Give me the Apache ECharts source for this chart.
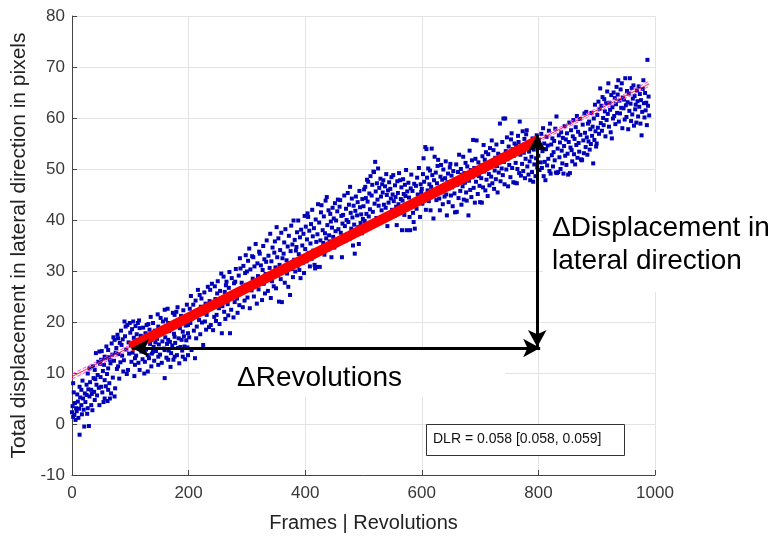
<!DOCTYPE html>
<html><head><meta charset="utf-8">
<script src="https://cdn.jsdelivr.net/npm/echarts@6/dist/echarts.min.js"></script>
<style>html,body{margin:0;padding:0;background:#fff}#c{width:775px;height:538px}</style>
</head><body><div id="c"></div>
<script>
// ---- data: [frame, displacement] ----
const seg0 = [[2,1.4],[4,1.8],[0,2.3],[13,-2.1],[21,-0.5],[29,-0.4],[7,3.1],[16,3.7],[10,4.4],[5,4.1],[19,5.0],[25,5.7],[33,6.7],[30,5.4],[39,4.7],[47,3.7],[33,3.7],[27,3.1],[56,5.0],[65,5.0],[73,5.4],[62,6.7],[50,7.3],[42,7.7],[56,8.6],[16,6.7],[13,7.3],[25,7.7],[2,8.0],[27,9.9],[36,11.3],[45,12.2],[50,12.6],[56,13.2],[47,14.2],[62,14.5],[68,15.8],[73,16.5],[79,16.8],[85,15.5],[76,14.9],[65,12.6],[79,11.3],[88,10.3],[96,10.6],[39,10.6],[30,10.9],[62,10.9],[90,20.1],[95,19.4],[99,19.8],[92,19.1],
[1,3.5],[3,6.2],[6,0.8],[8,2.5],[9,5.8],[11,1.2],[12,3.0],[14,5.2],[17,1.9],[18,8.5],[20,2.8],[22,6.0],[23,4.3],[26,2.0],[28,6.8],[31,8.2],[34,5.9],[35,2.7],[37,9.0],[38,6.3],[40,8.8],[41,13.9],[43,5.6],[44,9.6],[46,7.1],[48,11.8],[49,9.2],[51,14.3],[52,6.2],[53,10.4],[54,4.3],[55,11.6],[57,12.9],[58,7.4],[59,15.2],[60,9.8],[61,4.5],[63,13.1],[64,8.0],[66,11.9],[67,6.0],[69,13.6],[70,9.1],[71,17.0],[72,12.4],[74,7.0],[75,14.0],[77,10.8],[78,17.5],[80,13.7],[81,8.9],[82,15.9],[83,12.1],[84,18.3],[86,13.4],[87,16.6],[89,12.5],[91,17.2],[93,14.6],[94,9.8],[97,16.0],[98,13.8]];
const seg1 = [[100,17.9],[105,20.1],[113,19.8],[116,18.8],[128,19.4],[133,18.5],[139,19.8],[148,19.1],[156,20.1],[165,19.8],[176,21.4],[159,22.4],[179,22.0],[190,20.4],[199,19.4],[113,16.5],[125,15.8],[136,16.5],[145,17.1],[153,17.8],[165,16.5],[176,17.1],[188,16.5],[193,15.2],[182,14.9],[170,13.9],[159,14.5],[148,13.2],[139,14.2],[130,13.5],[119,14.2],[108,12.9],[125,12.2],[136,11.3],[148,11.6],[159,9.0],[130,10.3],[116,10.6],[108,11.6],[199,13.5],[165,12.6],[176,13.2],[190,13.2],[190,18.1],[199,17.8],[102,12.2],
[101,15.5],[103,18.6],[104,14.0],[106,16.9],[107,9.4],[109,19.2],[110,13.4],[111,17.6],[112,15.0],[114,12.0],[115,20.3],[117,14.8],[118,17.3],[120,16.2],[121,12.7],[122,18.9],[123,15.3],[124,9.9],[126,17.8],[127,14.6],[129,16.9],[131,19.6],[132,12.9],[134,15.7],[135,21.0],[137,13.8],[138,17.4],[140,15.1],[141,12.4],[142,18.3],[143,16.0],[144,14.3],[146,16.7],[147,21.5],[149,15.6],[150,17.9],[151,13.6],[152,20.8],[154,12.0],[155,16.2],[157,18.6],[158,14.8],[160,17.0],[161,20.5],[162,13.0],[163,15.7],[164,22.6],[166,14.4],[167,18.2],[168,16.1],[169,11.2],[171,19.0],[172,15.4],[173,21.8],[174,12.6],[175,17.7],[177,15.9],[178,19.9],[180,13.5],[181,22.9],[183,16.8],[184,11.9],[185,18.8],[186,15.1],[187,21.2],[189,14.4],[191,22.3],[192,17.2],[194,12.7],[195,19.3],[196,16.4],[197,23.4],[198,15.0]];
const seg2 = [[200,20.9],[201,17.0],[202,22.6],[203,19.8],[204,25.1],[205,14.5],[206,20.7],[208,23.4],[209,18.3],[210,21.9],[211,12.9],[212,24.2],[213,16.8],[214,19.1],[215,22.2],[216,26.3],[218,20.4],[219,25.3],[220,17.6],[221,23.0],[222,24.6],[223,19.9],[225,15.5],[226,21.7],[227,25.8],[228,20.1],[229,23.6],[230,18.5],[231,21.4],[233,26.9],[234,22.5],[235,19.0],[236,24.1],[237,26.3],[238,19.4],[239,22.9],[240,27.5],[242,18.4],[243,23.8],[244,21.0],[245,27.0],[246,24.5],[247,20.2],[248,21.4],[249,25.6],[250,28.0],[252,22.7],[253,19.6],[254,26.1],[255,24.0],[256,29.5],[257,17.8],[258,23.1],[260,28.9],[261,22.0],[262,25.9],[263,20.6],[264,27.2],[265,27.9],[267,23.5],[268,21.3],[269,26.7],[270,29.8],[271,17.8],[272,24.8],[273,22.4],[274,28.6],[276,25.4],[277,20.9],[278,27.6],[279,23.9],[280,27.9],[281,30.4],[283,24.6],[284,21.8],[285,26.2],[286,29.1],[287,23.3],[288,32.5],[289,30.5],[290,25.8],[291,27.7],[293,22.9],[294,31.0],[295,26.8],[296,24.2],[297,29.6],[298,33.1],[299,27.3]];
const seg3 = [[300,29.9],[301,24.8],[302,32.0],[303,27.1],[304,34.4],[305,22.7],[306,30.3],[308,26.2],[309,32.9],[310,28.5],[311,32.7],[312,25.0],[313,30.9],[314,27.8],[315,35.3],[317,23.6],[318,31.5],[319,29.0],[320,26.4],[321,33.8],[322,33.4],[323,28.2],[324,31.1],[326,24.3],[327,30.2],[328,34.9],[329,27.5],[330,32.3],[331,25.6],[332,29.4],[333,31.8],[334,36.0],[335,28.9],[336,26.1],[337,33.0],[339,30.6],[340,37.3],[341,24.7],[342,31.9],[343,28.0],[344,34.6],[345,29.8],[346,27.0],[347,33.6],[348,35.8],[349,30.7],[350,26.6],[351,38.6],[352,32.7],[353,29.2],[354,36.4],[355,24.0],[356,31.2],[357,34.1],[358,28.4],[359,37.5],[360,23.9],[361,32.5],[362,30.0],[363,33.4],[364,35.6],[365,27.7],[366,38.2],[368,32.1],[369,29.5],[370,34.8],[371,26.9],[372,36.9],[373,31.4],[374,25.3],[375,33.9],[376,38.9],[377,30.4],[378,35.2],[379,28.8],[380,39.9],[381,32.2],[382,36.1],[383,29.9],[384,34.0],[385,34.7],[386,37.6],[387,31.0],[388,39.9],[389,33.3],[390,30.2],[391,36.6],[392,28.6],[393,38.1],[394,32.8],[395,35.0],[396,31.6],[397,37.3],[398,29.6],[399,40.8]];
const seg4 = [[400,34.3],[401,38.7],[402,31.9],[403,36.2],[404,41.3],[405,40.6],[406,33.5],[407,37.9],[408,30.9],[409,35.4],[410,39.2],[411,32.4],[412,42.0],[413,36.8],[414,34.0],[415,38.4],[416,31.2],[417,30.5],[418,40.1],[419,35.7],[420,30.8],[421,37.2],[422,43.1],[423,33.9],[424,39.5],[425,30.8],[426,36.0],[427,41.5],[428,42.9],[429,34.7],[430,38.0],[431,35.5],[432,40.7],[433,33.2],[434,37.4],[435,43.8],[436,36.4],[437,44.5],[438,39.0],[439,34.2],[440,41.9],[441,37.0],[442,35.8],[443,41.2],[444,39.7],[445,32.7],[446,38.5],[447,42.4],[448,36.7],[449,40.3],[450,34.6],[451,43.3],[452,37.8],[453,39.9],[454,35.1],[455,41.7],[456,44.0],[457,38.2],[458,36.1],[459,42.6],[460,43.9],[461,37.5],[462,40.8],[463,32.7],[464,39.3],[465,41.0],[466,36.9],[467,44.8],[468,38.8],[469,35.9],[470,42.2],[471,40.0],[472,37.1],[473,45.3],[474,39.6],[475,43.0],[476,36.3],[477,46.5],[478,41.4],[479,38.3],[480,44.2],[481,40.5],[482,35.0],[483,42.8],[484,39.1],[485,33.4],[486,41.8],[487,44.6],[488,37.6],[489,40.9],[490,43.5],[491,38.6],[492,35.3],[493,45.7],[494,42.5],[495,39.4],[496,41.1],[497,37.4],[498,44.1],[499,40.2]];
const seg5 = [[500,42.7],[501,46.0],[502,39.8],[503,46.5],[504,44.3],[505,41.2],[506,47.9],[507,43.6],[508,47.5],[509,40.7],[510,45.2],[511,42.1],[512,48.6],[513,38.9],[514,44.8],[515,46.9],[516,41.6],[517,49.5],[518,49.4],[519,43.2],[520,51.4],[521,45.6],[522,40.4],[523,47.2],[524,44.0],[525,50.1],[526,42.8],[527,46.3],[528,39.5],[529,48.1],[530,44.6],[531,41.9],[532,47.0],[533,45.4],[534,47.8],[535,43.0],[536,40.1],[537,46.6],[538,42.4],[539,49.0],[540,44.9],[541,38.8],[542,45.8],[543,43.4],[544,47.4],[545,41.3],[546,46.1],[547,44.2],[548,48.4],[549,42.0],[550,45.0],[551,48.8],[552,43.7],[553,40.8],[554,46.8],[555,44.5],[556,42.6],[557,39.0],[558,47.6],[559,45.3],[560,43.1],[561,49.2],[562,41.7],[563,47.8],[564,44.1],[565,46.4],[566,38.0],[567,43.8],[568,48.0],[569,45.1],[570,41.0],[571,46.9],[572,44.7],[573,49.8],[574,38.0],[575,45.6],[576,42.9],[577,47.3],[578,44.4],[579,40.6],[580,38.0],[581,46.2],[582,48.9],[583,43.3],[584,45.7],[585,41.4],[586,39.6],[587,47.1],[588,38.3],[589,44.0],[590,46.7],[591,42.2],[592,48.3],[593,45.0],[594,43.6],[595,50.2],[596,44.6],[597,40.6],[598,47.0],[599,45.5]];
const seg6 = [[600,46.1],[601,43.2],[602,49.0],[603,52.1],[604,47.5],[605,44.4],[606,54.3],[607,42.0],[608,53.9],[609,48.3],[610,45.8],[611,50.1],[612,43.7],[613,47.0],[614,49.7],[615,41.9],[616,46.5],[617,54.0],[618,48.8],[619,44.9],[620,40.3],[621,47.8],[622,52.4],[623,45.3],[624,49.3],[625,43.9],[626,47.2],[627,50.6],[628,51.8],[629,46.0],[630,44.2],[631,41.9],[632,48.5],[633,50.8],[634,45.6],[635,47.9],[636,43.1],[637,49.9],[638,46.8],[639,44.6],[640,48.2],[641,51.5],[642,45.0],[643,40.9],[644,47.4],[645,49.1],[646,43.5],[647,46.2],[648,50.3],[649,51.0],[650,44.8],[651,48.7],[652,46.4],[653,42.7],[654,49.6],[655,47.1],[656,45.2],[657,41.5],[658,48.0],[659,50.9],[660,41.6],[661,46.9],[662,49.4],[663,44.3],[664,52.8],[665,47.6],[666,45.7],[667,50.0],[668,43.0],[669,48.9],[670,46.6],[671,52.4],[672,44.0],[673,49.2],[674,47.3],[675,51.2],[676,45.4],[677,43.8],[678,50.5],[679,48.1],[680,40.9],[681,47.7],[682,53.6],[683,45.9],[684,49.8],[685,44.5],[686,51.7],[687,48.4],[688,55.7],[689,46.3],[690,50.2],[691,43.4],[692,52.0],[693,47.5],[694,55.6],[695,49.0],[696,45.1],[697,51.3],[698,48.6],[699,46.7]];
const seg7 = [[700,43.5],[701,50.7],[702,48.2],[703,43.4],[704,52.5],[705,46.4],[706,54.7],[707,49.5],[708,51.8],[709,45.8],[710,53.3],[711,47.9],[712,50.4],[713,44.7],[714,52.9],[715,49.0],[716,46.8],[717,54.1],[718,51.1],[719,48.5],[720,55.6],[721,47.2],[722,50.9],[723,53.7],[724,46.1],[725,49.7],[726,52.2],[727,48.0],[728,54.8],[729,50.6],[730,45.4],[731,53.0],[732,49.3],[733,51.6],[734,58.9],[735,47.6],[736,52.7],[737,50.1],[738,55.3],[739,48.8],[740,59.9],[741,51.4],[742,47.0],[743,59.9],[744,53.5],[745,49.9],[746,56.2],[747,51.9],[748,46.6],[749,54.4],[750,50.8],[751,52.3],[752,48.4],[753,55.8],[754,57.0],[755,50.2],[756,53.9],[757,47.4],[758,52.6],[759,55.0],[760,47.3],[761,51.2],[762,54.6],[763,47.2],[764,50.0],[765,56.5],[766,55.3],[767,49.2],[768,59.3],[769,52.8],[770,48.7],[771,54.0],[772,51.0],[773,57.4],[774,49.6],[775,53.2],[776,55.9],[777,48.2],[778,52.0],[779,56.8],[780,57.6],[781,50.5],[782,54.9],[783,48.9],[784,53.4],[785,51.5],[786,47.8],[787,55.4],[788,52.4],[789,49.4],[790,56.0],[791,47.5],[792,53.8],[793,50.9],[794,55.1],[795,48.6],[796,52.1],[797,56.6],[798,50.3],[799,54.2]];
const seg8 = [[800,52.6],[801,55.7],[802,49.8],[803,54.1],[804,51.3],[805,56.9],[806,50.2],[807,53.5],[808,58.0],[809,48.6],[810,55.0],[811,51.4],[812,47.8],[813,53.9],[814,56.3],[815,50.7],[816,54.6],[817,52.0],[818,57.5],[819,49.6],[820,58.9],[821,49.1],[822,54.8],[823,52.7],[824,56.0],[825,50.5],[826,53.3],[827,55.5],[828,51.7],[829,57.9],[830,49.3],[831,60.3],[832,49.2],[833,54.0],[834,49.4],[835,56.6],[836,52.3],[837,55.2],[838,50.0],[839,57.2],[840,53.6],[841,51.1],[842,56.1],[843,49.1],[844,54.5],[845,58.4],[846,52.6],[847,55.8],[848,50.8],[849,57.0],[850,53.0],[851,48.9],[852,55.3],[853,59.1],[854,49.2],[855,54.2],[856,57.6],[857,53.7],[858,51.5],[859,56.4],[860,59.6],[861,52.9],[862,55.9],[863,50.9],[864,58.2],[865,54.7],[866,60.4],[867,52.2],[868,57.3],[869,55.1],[870,53.4],[871,59.8],[872,56.7],[873,51.9],[874,51.7],[875,51.8],[876,58.7],[877,55.6],[878,53.1],[879,60.9],[880,57.1],[881,54.3],[882,61.2],[883,56.2],[884,52.8],[885,58.9],[886,55.4],[887,59.3],[888,53.8],[889,57.8],[890,54.9],[891,61.0],[892,56.5],[893,58.3],[894,51.1],[895,59.9],[896,55.7],[897,62.6],[898,57.4],[899,54.4]];
const seg9 = [[900,55.0],[901,60.6],[902,58.1],[903,63.2],[904,56.9],[905,61.8],[906,65.8],[907,59.0],[908,62.4],[909,57.5],[910,64.1],[911,60.0],[912,58.6],[913,63.7],[914,61.3],[915,56.4],[916,62.9],[917,59.6],[918,65.2],[919,60.8],[920,66.8],[921,58.3],[922,63.0],[923,61.6],[924,57.2],[925,64.5],[926,56.0],[927,62.1],[928,59.9],[929,65.0],[930,60.4],[931,63.9],[932,58.8],[933,62.7],[934,66.1],[935,61.0],[936,64.6],[937,67.4],[938,59.3],[939,63.4],[940,60.9],[941,65.6],[942,62.0],[943,66.8],[944,58.0],[945,64.0],[946,61.9],[947,63.6],[948,59.7],[949,67.8],[950,62.5],[951,60.2],[952,65.3],[953,63.1],[954,57.8],[955,64.8],[956,61.4],[957,67.8],[958,62.8],[959,59.4],[960,65.9],[961,60.7],[962,63.8],[963,66.4],[964,58.5],[965,64.3],[966,61.7],[967,62.6],[968,59.1],[969,65.4],[970,63.3],[971,60.3],[972,66.2],[973,62.2],[974,64.7],[975,58.9],[976,63.5],[977,56.6],[978,61.2],[979,65.7],[980,67.4],[981,62.9],[982,60.1],[983,64.9],[984,61.5],[985,63.0],[986,58.6],[987,71.4],[988,62.4],[989,64.2],[990,60.5]];

// linear fit (full range) and its confidence bounds
const fitX = [0, 990];
const fitY = [9.3, 66.7];
const ciX = [0, 495, 990];
const ciUpperY = [9.8, 38.1, 67.2];
const ciLowerY = [8.8, 37.9, 66.2];
// highlighted range used for DLR
const rangeX = [100, 800];
const rangeY = [15.1, 55.7];
// annotation arrows
const revArrowX = [803, 103];
const revArrowY = 14.9;
const dispArrowX = 798;
const dispArrowY = [15.1, 56.7];
// axis ticks
const xTicks = [0, 200, 400, 600, 800, 1000];
const yTicks = [-10, 0, 10, 20, 30, 40, 50, 60, 70, 80];
const dlrText = 'DLR = 0.058 [0.058, 0.059]';

const points = [].concat(seg0, seg1, seg2, seg3, seg4, seg5, seg6, seg7, seg8, seg9);
const pair = (xs, ys) => xs.map((x, i) => [x, ys[i]]);

const FONT = '"Liberation Sans", Arial, sans-serif';
const chart = echarts.init(document.getElementById('c'), null, {renderer: 'canvas'});
chart.setOption({
  animation: false,
  backgroundColor: '#ffffff',
  textStyle: {fontFamily: FONT},
  grid: {left: 72, right: 120, top: 16, bottom: 63, containLabel: false},
  xAxis: {
    type: 'value', min: xTicks[0], max: xTicks[xTicks.length - 1], interval: 200,
    name: 'Frames | Revolutions', nameLocation: 'middle', nameGap: 38,
    nameTextStyle: {fontSize: 20, color: '#222', fontFamily: FONT},
    axisLine: {show: true, onZero: false, lineStyle: {color: '#444', width: 1}},
    axisTick: {show: true, inside: true, length: 5, lineStyle: {color: '#444'}},
    axisLabel: {fontSize: 17, color: '#383838', margin: 10, fontFamily: FONT, formatter: v => String(v)},
    splitLine: {show: true, lineStyle: {color: '#e3e3e3', width: 1}}
  },
  yAxis: {
    type: 'value', min: yTicks[0], max: yTicks[yTicks.length - 1], interval: 10,
    name: 'Total displacement in lateral direction in pixels', nameLocation: 'middle', nameGap: 39,
    nameTextStyle: {fontSize: 21, color: '#222', fontFamily: FONT},
    axisLine: {show: true, onZero: false, lineStyle: {color: '#444', width: 1}},
    axisTick: {show: true, inside: true, length: 5, lineStyle: {color: '#444'}},
    axisLabel: {fontSize: 17, color: '#383838', margin: 7, fontFamily: FONT, formatter: v => String(v)},
    splitLine: {show: true, lineStyle: {color: '#e3e3e3', width: 1}}
  },
  series: [
    {
      type: 'scatter', data: points, symbol: 'rect', symbolSize: 4,
      itemStyle: {color: '#0000b8', opacity: 1}, z: 2, silent: true, large: false
    },
    {
      type: 'line', data: pair(fitX, fitY), showSymbol: false, symbol: 'none',
      lineStyle: {color: '#ff2020', width: 1}, z: 3, silent: true
    },
    {
      type: 'line', data: pair(ciX, ciUpperY), showSymbol: false, symbol: 'none',
      lineStyle: {color: '#ff40ff', width: 1, type: [4, 2]}, z: 3, silent: true
    },
    {
      type: 'line', data: pair(ciX, ciLowerY), showSymbol: false, symbol: 'none',
      lineStyle: {color: '#ff40ff', width: 1, type: [4, 2]}, z: 3, silent: true
    },
    {
      type: 'line', data: pair(rangeX, rangeY), showSymbol: false, symbol: 'none',
      lineStyle: {color: '#ff0000', width: 10, cap: 'butt'}, z: 4, silent: true
    },
    {
      type: 'line', data: [], z: 5, silent: true,
      markLine: {
        silent: true, animation: false,
        symbol: ['arrow', 'arrow'], symbolSize: [14, 17],
        label: {show: false},
        lineStyle: {color: '#000', width: 3, type: 'solid'},
        emphasis: {disabled: true},
        data: [
          [{coord: [revArrowX[0], revArrowY]}, {coord: [revArrowX[1], revArrowY]}],
          [{coord: [dispArrowX, dispArrowY[0]]}, {coord: [dispArrowX, dispArrowY[1]]}]
        ]
      }
    }
  ],
  graphic: [
    {type: 'rect', z: 1, shape: {x: 200, y: 350, width: 305, height: 47}, style: {fill: '#fff'}, silent: true},
    {type: 'rect', z: 1, shape: {x: 543, y: 192, width: 232, height: 100}, style: {fill: '#fff'}, silent: true},
    {type: 'text', z: 10, left: 237, top: 364, style: {text: 'ΔRevolutions', font: '28px ' + FONT, fill: '#000'}, silent: true},
    {type: 'text', z: 10, left: 552, top: 212, style: {text: 'ΔDisplacement in\nlateral direction', font: '28px ' + FONT, fill: '#000', lineHeight: 33}, silent: true},
    {type: 'rect', z: 10, shape: {x: 426.5, y: 424.5, width: 198, height: 31}, style: {fill: '#fff', stroke: '#333', lineWidth: 1}, silent: true},
    {type: 'text', z: 11, left: 433, top: 432, style: {text: dlrText, font: '14px ' + FONT, fill: '#111'}, silent: true}
  ]
});
</script></body></html>
